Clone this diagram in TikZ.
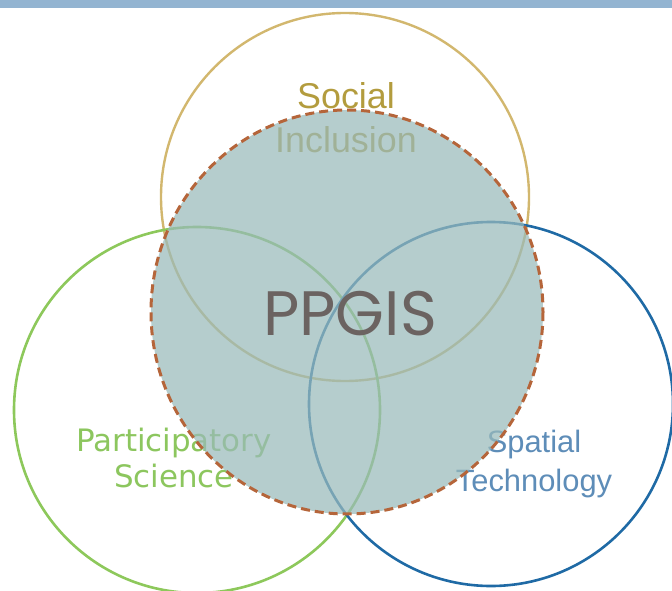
\documentclass[tikz,border=0pt]{standalone}
\usepackage{fontspec}
\usetikzlibrary{shapes.geometric}
\newfontfamily\labelfont{Liberation Sans}
\newfontfamily\scifont{DejaVu Sans}
\newfontfamily\titlefont{Poppins}
\definecolor{barblue}{HTML}{93B4D1}
\definecolor{socialgold}{HTML}{D2B76E}
\definecolor{socialtext}{HTML}{B39C3E}
\definecolor{partgreen}{HTML}{8DC85B}
\definecolor{parttext}{HTML}{8CC65E}
\definecolor{spatblue}{HTML}{1F6AA5}
\definecolor{spattext}{HTML}{5E8DB8}
\definecolor{ppgisfill}{HTML}{99BABA}
\definecolor{ppgisedge}{HTML}{B5653A}
\definecolor{ppgistext}{HTML}{6B6361}

\begin{document}
\begin{tikzpicture}[x=1bp,y=-1bp,
    ring/.style={circle,inner sep=0pt,minimum size=#1},
    topic/.style={align=center,inner sep=0pt}]
    \useasboundingbox (0,0) rectangle (672,591);
    \clip (0,0) rectangle (672,591);
    \fill[barblue] (0,0) rectangle (672,8.5);

    % the three circles
    \node[ring=368bp,draw=socialgold,line width=2.4bp] (social) at (345,197) {};
    \node[ring=366bp,draw=partgreen,line width=2.6bp] (science) at (197,410) {};
    \node[ring=364bp,draw=spatblue,line width=2.6bp] (spatial) at (491,404) {};

    \node[topic,text=socialtext,font=\labelfont\fontsize{36}{44}\selectfont] (sociallbl) at (346,118) {Social\\Inclusion};
    \node[topic,text=parttext,font=\scifont\fontsize{31}{37}\selectfont] (sciencelbl) at (174,458) {Participatory\\Science};
    \node[topic,text=spattext,font=\labelfont\fontsize{31}{39}\selectfont] (spatiallbl) at (534,464) {Spatial\\Technology};

    % overlap
    \node[ellipse,inner sep=0pt,minimum width=392bp,minimum height=404bp,
          fill=ppgisfill,fill opacity=0.72] (ppgis) at (347,312) {};
    \draw[ppgisedge,line width=3bp,dash pattern=on 9bp off 5bp] (ppgis.center) ellipse [x radius=196,y radius=202];
    \node[text=ppgistext,font=\titlefont\fontsize{63}{70}\selectfont,inner sep=0pt] (ppgislbl) at (350,314) {PPGIS};
\end{tikzpicture}
\end{document}
